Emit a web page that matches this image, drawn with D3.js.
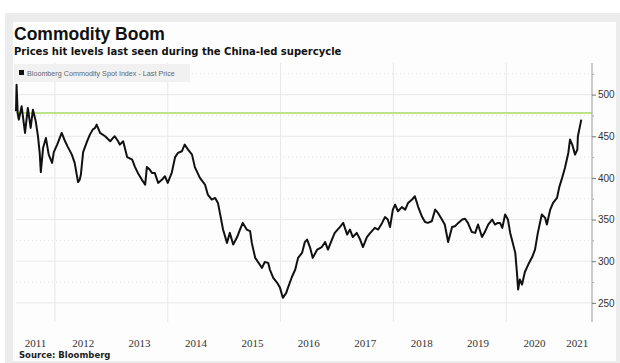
<!DOCTYPE html>
<html>
<head>
<meta charset="utf-8">
<script src="https://cdn.jsdelivr.net/npm/d3@7"></script>
<style>
  body { margin: 0; background: #fff; }
  svg { display: block; }
</style>
</head>
<body>
<svg></svg>
<script>
/* decimal year of each point */
var dates = [
  2011.31, 2011.32, 2011.34, 2011.36, 2011.41, 2011.47, 2011.52, 2011.57, 2011.61, 2011.66,
  2011.70, 2011.73, 2011.75, 2011.79, 2011.84, 2011.89, 2011.95, 2011.98, 2012.04, 2012.12,
  2012.18, 2012.23, 2012.30, 2012.35, 2012.41, 2012.44, 2012.46, 2012.50, 2012.57, 2012.62,
  2012.67, 2012.71, 2012.74, 2012.80, 2012.89, 2012.98, 2013.03, 2013.06, 2013.12, 2013.15,
  2013.21, 2013.28, 2013.37, 2013.42, 2013.47, 2013.54, 2013.60, 2013.63, 2013.68, 2013.72,
  2013.77, 2013.83, 2013.90, 2013.95, 2014.00, 2014.07, 2014.13, 2014.18, 2014.25, 2014.30,
  2014.36, 2014.43, 2014.48, 2014.57, 2014.66, 2014.71, 2014.78, 2014.84, 2014.89, 2014.93,
  2014.98, 2015.05, 2015.10, 2015.16, 2015.23, 2015.28, 2015.33, 2015.40, 2015.46, 2015.49,
  2015.55, 2015.60, 2015.67, 2015.72, 2015.78, 2015.81, 2015.87, 2015.94, 2015.99, 2016.04,
  2016.10, 2016.13, 2016.20, 2016.26, 2016.31, 2016.38, 2016.43, 2016.47, 2016.52, 2016.57,
  2016.65, 2016.73, 2016.79, 2016.84, 2016.91, 2016.96, 2017.05, 2017.11, 2017.18, 2017.23,
  2017.28, 2017.35, 2017.41, 2017.46, 2017.53, 2017.59, 2017.67, 2017.73, 2017.80, 2017.85,
  2017.90, 2017.94, 2017.99, 2018.03, 2018.08, 2018.15, 2018.21, 2018.26, 2018.33, 2018.38,
  2018.44, 2018.51, 2018.56, 2018.61, 2018.68, 2018.74, 2018.79, 2018.86, 2018.91, 2018.97,
  2019.04, 2019.09, 2019.15, 2019.22, 2019.27, 2019.32, 2019.39, 2019.45, 2019.50, 2019.57,
  2019.62, 2019.68, 2019.75, 2019.80, 2019.85, 2019.89, 2019.93, 2019.98, 2020.03, 2020.07,
  2020.10, 2020.16, 2020.19, 2020.21, 2020.24, 2020.28, 2020.33, 2020.39, 2020.46, 2020.51,
  2020.56, 2020.63, 2020.69, 2020.72, 2020.78, 2020.83, 2020.90, 2020.94, 2020.99, 2021.04,
  2021.10, 2021.13, 2021.17, 2021.22, 2021.26, 2021.27, 2021.33
];

/* Bloomberg Commodity Spot Index - last price */
var prices = [
  480, 512, 478, 470, 486, 454, 484, 460, 482, 468,
  450, 430, 407, 436, 448, 428, 418, 431, 440, 454,
  444, 437, 428, 418, 395, 398, 404, 431, 444, 452,
  458, 460, 464, 454, 450, 444, 448, 450, 444, 440,
  444, 425, 422, 413, 406, 398, 392, 413, 410, 406,
  406, 394, 398, 402, 394, 406, 425, 430, 432, 440,
  434, 428, 413, 400, 392, 380, 374, 376, 370, 356,
  338, 322, 334, 320, 329, 338, 346, 338, 336, 322,
  304, 299, 292, 299, 298, 290, 280, 274, 268, 256,
  262, 268, 281, 290, 304, 310, 323, 326, 317, 304,
  314, 317, 323, 314, 326, 334, 341, 346, 332, 338,
  329, 334, 326, 317, 329, 334, 340, 338, 346, 353,
  350, 341, 362, 368, 360, 365, 362, 370, 374, 378,
  365, 353, 347, 346, 348, 362, 358, 350, 344, 323,
  341, 342, 346, 350, 351, 346, 335, 334, 344, 329,
  335, 344, 350, 344, 346, 346, 340, 356, 350, 334,
  326, 310, 286, 266, 278, 272, 287, 296, 305, 314,
  334, 356, 352, 344, 362, 370, 376, 389, 400, 412,
  430, 446, 440, 428, 434, 450, 470
];

var years = [2011, 2012, 2013, 2014, 2015, 2016, 2017, 2018, 2019, 2020, 2021];
var gridYears = [2012, 2014, 2016, 2018, 2020];
var priceTicks = [250, 300, 350, 400, 450, 500];
var minorTicks = [275, 325, 375, 425, 475, 525];
var refLevel = 478;

var title = "Commodity Boom";
var subtitle = "Prices hit levels last seen during the China-led supercycle";
var legendText = "Bloomberg Commodity Spot Index - Last Price";
var source = "Source: Bloomberg";

var width = 620;
var height = 363;
var plotLeft = 16;
var plotRight = 592;
var plotTop = 63;
var plotBottom = 322;

var svg = d3.select("svg").attr("width", width).attr("height", height);

var xScale;
var yScale;

var frame = function () {
  svg.append("rect")
    .attr("x", 5).attr("y", 13)
    .attr("width", 615).attr("height", 350)
    .attr("fill", "#ececec");
  svg.append("rect")
    .attr("x", 13).attr("y", 22)
    .attr("width", 603).attr("height", 339)
    .attr("fill", "#fdfdfd");
};

var scales = function () {
  xScale = d3.scaleLinear().domain([2011.31, 2021.52]).range([plotLeft, plotRight]);
  yScale = d3.scaleLinear().domain([227, 538]).range([plotBottom, plotTop]);
};

var grid = function () {
  var g = svg.append("g");
  g.selectAll(".hgrid")
    .data(priceTicks)
    .enter()
    .append("line")
    .attr("x1", plotLeft).attr("x2", plotRight)
    .attr("y1", (d) => yScale(d)).attr("y2", (d) => yScale(d))
    .attr("stroke", "#e8e8e8");
  g.selectAll(".mgrid")
    .data(minorTicks)
    .enter()
    .append("line")
    .attr("x1", plotLeft).attr("x2", plotRight)
    .attr("y1", (d) => yScale(d)).attr("y2", (d) => yScale(d))
    .attr("stroke", "#e2e2e2")
    .attr("stroke-dasharray", "1,3");
  g.selectAll(".vgrid")
    .data(gridYears)
    .enter()
    .append("line")
    .attr("x1", (d) => xScale(d)).attr("x2", (d) => xScale(d))
    .attr("y1", plotTop).attr("y2", plotBottom)
    .attr("stroke", "#e8e8e8");
};

var axises = function () {
  var yAxis = d3.axisRight(yScale)
    .tickValues(priceTicks)
    .tickSize(4)
    .tickPadding(2);
  var ga = svg.append("g")
    .attr("transform", "translate(" + plotRight + ",0)")
    .call(yAxis);
  ga.select(".domain").attr("stroke", "#999").attr("d", "M0," + plotTop + "V" + plotBottom);
  ga.selectAll(".tick line").attr("stroke", "#777");
  ga.selectAll("text")
    .attr("font-family", "Liberation Sans, Arial, sans-serif")
    .attr("font-size", 10)
    .attr("fill", "#333");

  var minor = d3.axisRight(yScale).tickValues(minorTicks).tickSize(2).tickFormat("");
  svg.append("g")
    .attr("transform", "translate(" + plotRight + ",0)")
    .call(minor)
    .call((s) => s.select(".domain").remove())
    .selectAll("line").attr("stroke", "#aaa");

  /* year labels sit in the middle of the visible part of each year */
  svg.append("g")
    .selectAll("text")
    .data(years)
    .enter()
    .append("text")
    .attr("x", (d) => {
      var a = Math.max(xScale(d), plotLeft);
      var b = Math.min(xScale(d + 1), plotRight);
      return (a + b) / 2;
    })
    .attr("y", 347)
    .attr("text-anchor", "middle")
    .attr("font-family", "Liberation Serif, serif")
    .attr("font-size", 11)
    .attr("fill", "#333")
    .text((d) => d);
};

var lines = function () {
  svg.append("line")
    .attr("x1", plotLeft).attr("x2", plotRight)
    .attr("y1", yScale(refLevel)).attr("y2", yScale(refLevel))
    .attr("stroke", "#bde38a")
    .attr("stroke-width", 2);

  var pts = dates.map((d, i) => [d, prices[i]]);
  var line = d3.line()
    .x((d) => xScale(d[0]))
    .y((d) => yScale(d[1]));
  svg.append("path")
    .datum(pts)
    .attr("d", line)
    .attr("fill", "none")
    .attr("stroke", "#111")
    .attr("stroke-width", 2)
    .attr("stroke-linejoin", "round");
};

var texts = function () {
  svg.append("text")
    .attr("x", 14).attr("y", 40)
    .attr("font-family", "Liberation Sans, Arial, sans-serif")
    .attr("font-weight", "bold")
    .attr("font-size", 17.5)
    .attr("fill", "#111")
    .text(title);
  svg.append("text")
    .attr("x", 14).attr("y", 55)
    .attr("font-family", "DejaVu Sans, sans-serif")
    .attr("font-weight", "bold")
    .attr("font-size", 10)
    .attr("fill", "#111")
    .text(subtitle);

  /* legend */
  svg.append("rect")
    .attr("x", 14).attr("y", 64)
    .attr("width", 176).attr("height", 18)
    .attr("fill", "#f1f1f1");
  svg.append("rect")
    .attr("x", 19).attr("y", 70)
    .attr("width", 5).attr("height", 5)
    .attr("fill", "#111");
  svg.append("text")
    .attr("x", 27).attr("y", 75.5)
    .attr("font-family", "Liberation Sans, Arial, sans-serif")
    .attr("font-size", 7.2)
    .attr("fill", "#666")
    .text(legendText);

  svg.append("text")
    .attr("x", 19).attr("y", 358)
    .attr("font-family", "DejaVu Sans, sans-serif")
    .attr("font-weight", "bold")
    .attr("font-size", 8.5)
    .attr("fill", "#222")
    .text(source);
};

frame();
scales();
grid();
lines();
axises();
texts();
</script>
</body>
</html>
